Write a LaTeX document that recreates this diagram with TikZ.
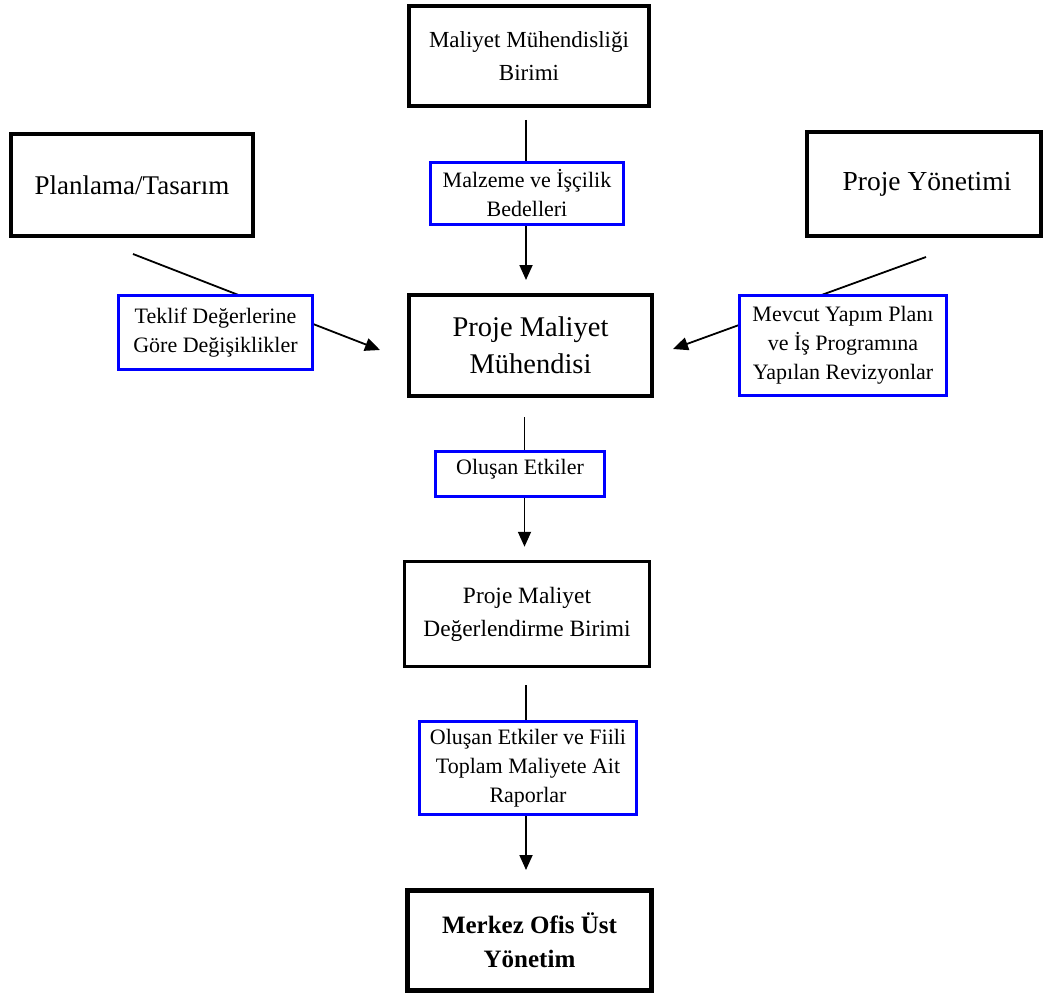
\documentclass[tikz,border=0pt]{standalone}
\usepackage{fontspec}
\setmainfont{Liberation Serif}
\usetikzlibrary{arrows.meta,calc}
\begin{document}
\begin{tikzpicture}[x=1pt,y=-1pt,
  mainbox/.style={draw=black,line width=4pt,fill=white,align=center,inner sep=0pt,anchor=center},
  bluebox/.style={draw=blue,line width=3.3pt,fill=white,align=center,inner sep=0pt,anchor=center},
  conn/.style={draw=black,line width=1.8pt,-{Triangle[width=13pt,length=15pt]}},
  fsA/.style={font=\fontsize{22}{29}\selectfont}
]
\useasboundingbox (0,0) rectangle (1046,995);
% main boxes
\node[mainbox,minimum width=240,minimum height=100,font=\fontsize{23}{33}\selectfont] (mmb) at (529,56) {Maliyet Mühendisliği\\Birimi};
\node[mainbox,minimum width=242,minimum height=102,font=\fontsize{27}{33}\selectfont] (plan) at (132,185) {Planlama/Tasarım};
\node[mainbox,minimum width=234,minimum height=103,font=\fontsize{27.5}{33}\selectfont] (py) at (924,184) {\hspace*{6pt}Proje Yönetimi};
\node[mainbox,minimum width=243,minimum height=101,font=\fontsize{28.5}{37}\selectfont] (pmm) at (530.5,345.5) {Proje Maliyet\\Mühendisi};
\node[mainbox,line width=3.5pt,minimum width=245,minimum height=105,font=\fontsize{23.4}{33}\selectfont] (pmdb) at (527,614) {Proje Maliyet\\Değerlendirme Birimi};
\node[mainbox,line width=5pt,minimum width=244,minimum height=100,font=\fontsize{25}{34}\selectfont\bfseries] (mos) at (529.5,940.5) {Merkez Ofis Üst\\Yönetim};
% connectors
\coordinate (p1) at (133,254);
\coordinate (p2) at (380,350);
\coordinate (q1) at (926,257);
\coordinate (q2) at (673,349);
\draw[conn,shorten <=12pt,shorten >=13pt] ([xshift=-3pt]mmb.south) -- ([xshift=-3pt]mmb.south |- pmm.north);
\draw[conn,shorten <=19pt,shorten >=13pt] ([xshift=-6pt]pmm.south) -- ([xshift=-6pt]pmm.south |- pmdb.north);
\draw[conn,shorten <=17pt,shorten >=18pt] ([xshift=-1pt]pmdb.south) -- ([xshift=-1pt]pmdb.south |- mos.north);
\draw[conn] (p1) -- (p2);
\draw[conn] (q1) -- (q2);
% label boxes
\node[bluebox,fsA,minimum width=193,minimum height=62] (mib) at (527,193.5) {Malzeme ve İşçilik\\Bedelleri};
\node[bluebox,fsA,minimum width=194,minimum height=74] (tdg) at (215.5,332.5) {Teklif Değerlerine\\Göre Değişiklikler};
\node[bluebox,fsA,minimum width=207,minimum height=100] (myp) at (843,345.5) {Mevcut Yapım Planı\\ve İş Programına\\Yapılan Revizyonlar};
\node[bluebox,fsA,minimum width=169,inner ysep=0pt,text height=22.5pt,text depth=22.5pt,anchor=base] (oe) at (520,474) {Oluşan Etkiler};
\node[bluebox,fsA,minimum width=217,minimum height=93] (oefr) at (528,768) {Oluşan Etkiler ve Fiili\\Toplam Maliyete Ait\\Raporlar};
\end{tikzpicture}
\end{document}
